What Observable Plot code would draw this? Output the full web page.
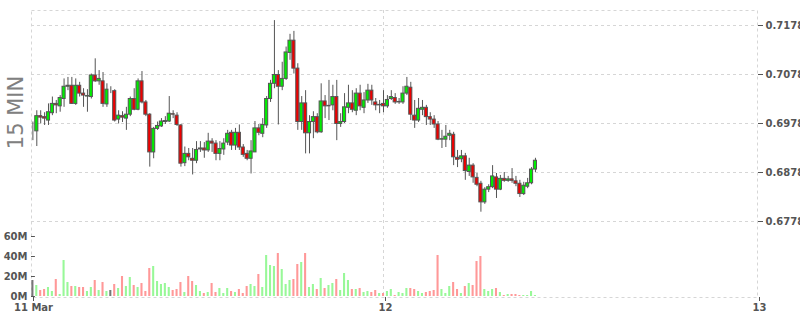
<!DOCTYPE html>
<html><head><meta charset="utf-8">
<script src="https://cdn.jsdelivr.net/npm/d3@7"></script>
<script src="https://cdn.jsdelivr.net/npm/@observablehq/plot@0.6"></script>
<style>
html,body{margin:0;padding:0;background:#fff;}
#wrap{position:relative;width:800px;height:315px;overflow:hidden;}
#wrap svg{position:absolute;left:0;top:0;}
</style></head><body><div id="wrap"></div>
<script>
const opens = [0.6964,0.6962,0.6993,0.6991,0.6984,0.6999,0.7018,0.7013,0.7028,0.7053,
0.7055,0.7018,0.7055,0.7039,0.7033,0.7032,0.7076,0.7064,0.7064,0.7017,
0.7046,0.7044,0.6986,0.6993,0.6988,0.6996,0.7028,0.7006,0.7064,0.7021,
0.6996,0.6919,0.6967,0.6972,0.6981,0.6982,0.6997,0.6994,0.6974,0.6897,
0.6916,0.6906,0.6902,0.6925,0.6927,0.6923,0.6941,0.6937,0.6916,0.6925,
0.6939,0.6959,0.6933,0.6959,0.6929,0.6916,0.6906,0.6919,0.6968,0.6957,
0.6974,0.7028,0.7059,0.7077,0.7053,0.7069,0.7122,0.7147,0.7090,0.6981,
0.7019,0.6958,0.6981,0.6991,0.6960,0.7023,0.7013,0.7015,0.7032,0.6977,
0.6981,0.7010,0.7019,0.7004,0.7039,0.7010,0.7025,0.7045,0.7021,0.7015,
0.7018,0.7013,0.7028,0.7030,0.7021,0.7021,0.7039,0.7051,0.6994,0.6984,
0.7006,0.7010,0.6991,0.6986,0.6976,0.6945,0.6945,0.6953,0.6955,0.6908,
0.6905,0.6911,0.6879,0.6892,0.6867,0.6855,0.6817,0.6843,0.6848,0.6868,
0.6843,0.6865,0.6861,0.6864,0.6860,0.6855,0.6834,0.6849,0.6856,0.6884];
const closes = [0.6964,0.6993,0.6990,0.6988,0.7001,0.7018,0.7015,0.7030,0.7053,0.7055,
0.7018,0.7055,0.7039,0.7035,0.7034,0.7076,0.7064,0.7069,0.7018,0.7047,
0.7046,0.6984,0.6994,0.6990,0.6996,0.7028,0.7006,0.7064,0.7021,0.6996,
0.6919,0.6967,0.6973,0.6982,0.6983,0.6998,0.6996,0.6975,0.6896,0.6916,
0.6909,0.6902,0.6924,0.6927,0.6923,0.6941,0.6937,0.6916,0.6926,0.6937,
0.6957,0.6933,0.6959,0.6929,0.6914,0.6906,0.6921,0.6968,0.6959,0.6975,
0.7028,0.7059,0.7077,0.7053,0.7069,0.7123,0.7147,0.7090,0.6981,0.7019,
0.6958,0.6981,0.6991,0.6960,0.7023,0.7013,0.7014,0.7032,0.6977,0.6981,
0.7011,0.7019,0.7006,0.7039,0.7013,0.7025,0.7045,0.7025,0.7015,0.7016,
0.7013,0.7026,0.7032,0.7021,0.7022,0.7039,0.7053,0.6996,0.6984,0.7008,
0.7010,0.6991,0.6986,0.6976,0.6945,0.6946,0.6951,0.6957,0.6909,0.6904,
0.6911,0.6881,0.6892,0.6868,0.6853,0.6817,0.6843,0.6848,0.6870,0.6843,
0.6865,0.6861,0.6864,0.6861,0.6855,0.6834,0.6851,0.6856,0.6884,0.6902];
const highs = [0.6981,0.7004,0.7004,0.7000,0.7018,0.7032,0.7025,0.7035,0.7069,0.7072,
0.7072,0.7069,0.7062,0.7049,0.7047,0.7079,0.7110,0.7086,0.7082,0.7059,
0.7053,0.7047,0.7004,0.7002,0.7011,0.7032,0.7049,0.7069,0.7084,0.7025,
0.6998,0.6970,0.6981,0.6988,0.6992,0.7033,0.7004,0.7000,0.6976,0.6930,
0.6927,0.6927,0.6941,0.6941,0.6939,0.6958,0.6947,0.6943,0.6941,0.6947,
0.6964,0.6964,0.6968,0.6975,0.6935,0.6923,0.6943,0.6982,0.6976,0.6988,
0.7033,0.7066,0.7188,0.7086,0.7103,0.7134,0.7160,0.7166,0.7100,0.7033,
0.7045,0.6994,0.7002,0.6998,0.7059,0.7035,0.7066,0.7056,0.7066,0.6998,
0.7039,0.7056,0.7045,0.7049,0.7056,0.7041,0.7058,0.7056,0.7029,0.7025,
0.7045,0.7035,0.7045,0.7039,0.7029,0.7053,0.7072,0.7062,0.7025,0.7029,
0.7025,0.7015,0.7000,0.6994,0.6982,0.6964,0.6974,0.6964,0.6960,0.6923,
0.6923,0.6917,0.6907,0.6896,0.6876,0.6860,0.6847,0.6853,0.6892,0.6876,
0.6872,0.6878,0.6870,0.6886,0.6870,0.6862,0.6858,0.6866,0.6888,0.6907];
const lows = [0.6943,0.6931,0.6977,0.6974,0.6974,0.6994,0.6998,0.7001,0.7011,0.7045,
0.7017,0.7015,0.7032,0.7011,0.7001,0.7028,0.7062,0.7056,0.7011,0.7011,
0.7039,0.6981,0.6977,0.6980,0.6964,0.6992,0.7004,0.7004,0.7018,0.6992,
0.6889,0.6906,0.6964,0.6970,0.6976,0.6980,0.6988,0.6972,0.6889,0.6890,
0.6902,0.6873,0.6896,0.6919,0.6907,0.6919,0.6919,0.6902,0.6902,0.6913,
0.6933,0.6923,0.6923,0.6923,0.6909,0.6902,0.6875,0.6919,0.6953,0.6949,
0.6968,0.7021,0.7049,0.6975,0.7045,0.7066,0.7107,0.7079,0.6964,0.6964,
0.6916,0.6916,0.6947,0.6957,0.6958,0.6988,0.6984,0.7004,0.6943,0.6970,
0.6978,0.6998,0.7000,0.6994,0.7004,0.6998,0.7019,0.7015,0.7004,0.6998,
0.7000,0.7009,0.7025,0.7017,0.7017,0.7017,0.7035,0.6984,0.6968,0.6980,
0.6994,0.6974,0.6974,0.6968,0.6943,0.6927,0.6929,0.6943,0.6892,0.6888,
0.6898,0.6862,0.6870,0.6856,0.6849,0.6797,0.6813,0.6837,0.6845,0.6825,
0.6841,0.6858,0.6858,0.6856,0.6849,0.6827,0.6831,0.6845,0.6853,0.6878];
const volumes = [16,11,6,7,9,5,17,2,36,14,
10,10,9,9,5,9,16,6,14,5,
6,12,8,20,10,19,11,9,13,5,
28,30,15,12,13,9,6,7,14,4,
20,15,11,5,3,4,13,4,8,3,
8,5,4,7,3,10,12,10,22,9,
41,31,30,43,27,12,16,17,32,34,
43,9,12,7,18,8,11,13,17,6,
23,16,7,7,8,4,5,4,6,3,
3,5,7,1,4,3,8,8,7,5,
3,4,5,6,41,7,3,10,14,7,
3,10,13,11,35,40,7,5,7,8,
4,1,2,2,2,1,1,1,5,1];
const priceTicks = [0.6778, 0.6878, 0.6978, 0.7078, 0.7178];
const volumeTicks = [0, 20, 40, 60];
const dayLabels = ["11 Mar", "12", "13"];
const intervalLabel = "15 MIN";

const firstCandle = Date.UTC(2020, 2, 11, 1, 30);
const MIN = 60000;
const xStart = new Date(Date.UTC(2020, 2, 11, 1, 24, 36));
const xEnd = new Date(Date.UTC(2020, 2, 13));
const dayTickDates = [xStart, new Date(Date.UTC(2020, 2, 12)), xEnd];
const dayLabelMap = new Map(dayTickDates.map((d, i) => [+d, dayLabels[i]]));

const candles = opens.map((o, i) => ({
  t: new Date(firstCandle + i * 15 * MIN),
  o, c: closes[i], h: highs[i], l: lows[i], v: volumes[i]
}));

const UP = "#00ee00", DOWN = "#ee0000", EDGE = "#555";
const VUP = "#98f898", VDOWN = "#ff9898", VFLAT = "#777";
const GRID = "#d6d6d6";

const common = {
  width: 800, height: 315,
  marginLeft: 31, marginRight: 43, marginTop: 10, marginBottom: 18,
  style: "font-family: 'DejaVu Sans', sans-serif; font-size: 10px; font-weight: bold; color: #555; background: transparent;"
};

const pricePlot = Plot.plot({
  ...common,
  x: {type: "utc", domain: [xStart, xEnd], label: null},
  y: {domain: [0.6778, 0.7178], range: [221, 25], label: null},
  color: {type: "identity"},
  marks: [
    Plot.frame({stroke: GRID, strokeDasharray: "3,3"}),
    Plot.ruleY(priceTicks, {stroke: GRID, strokeDasharray: "3,3"}),
    Plot.ruleX([dayTickDates[1]], {stroke: GRID, strokeDasharray: "3,3"}),
    Plot.axisY({ticks: priceTicks, anchor: "right", tickSize: 5, tickPadding: 3, label: null,
      tickFormat: d3.format(".4f"), fontSize: 10, fontWeight: "bold"}),
    Plot.axisX({ticks: dayTickDates, anchor: "bottom", tickSize: 4, tickPadding: 2, dx: 2, label: null,
      tickFormat: d => dayLabelMap.get(+d), fontSize: 10, fontWeight: "bold"}),
    Plot.ruleX(candles, {x: "t", y1: "l", y2: "h", stroke: EDGE, strokeWidth: 1}),
    Plot.rect(candles, {
      x1: d => new Date(+d.t - 6 * MIN), x2: d => new Date(+d.t + 6 * MIN),
      y1: "o", y2: "c",
      fill: d => d.c >= d.o ? UP : DOWN, stroke: EDGE, strokeWidth: 1
    }),
    Plot.text([intervalLabel], {frameAnchor: "top-left", dx: -15, dy: 102, rotate: -90,
      fontSize: 21, fontWeight: "normal", fill: "#808080", textAnchor: "middle", lineAnchor: "middle"})
  ]
});

const volumePlot = Plot.plot({
  ...common,
  x: {type: "utc", domain: [xStart, xEnd], axis: null, label: null},
  y: {domain: [0, 60], range: [296, 236], label: null},
  color: {type: "identity"},
  marks: [
    Plot.rect(candles, {
      x1: d => new Date(+d.t - 4 * MIN), x2: d => new Date(+d.t + 4 * MIN),
      y1: 0, y2: "v",
      fill: d => d.c > d.o ? VUP : d.c < d.o ? VDOWN : VFLAT
    }),
    Plot.axisY({ticks: volumeTicks, anchor: "left", tickSize: 0, tickPadding: 4, label: null,
      tickFormat: d => d + "M", fontSize: 10, fontWeight: "bold"}),
    Plot.ruleY(volumeTicks, {y: d => d, x1: xStart, x2: d3.utcMinute.offset(xStart, 15), stroke: EDGE})
  ]
});

const wrap = document.getElementById("wrap");
wrap.appendChild(pricePlot);
wrap.appendChild(volumePlot);
</script>
</body></html>
